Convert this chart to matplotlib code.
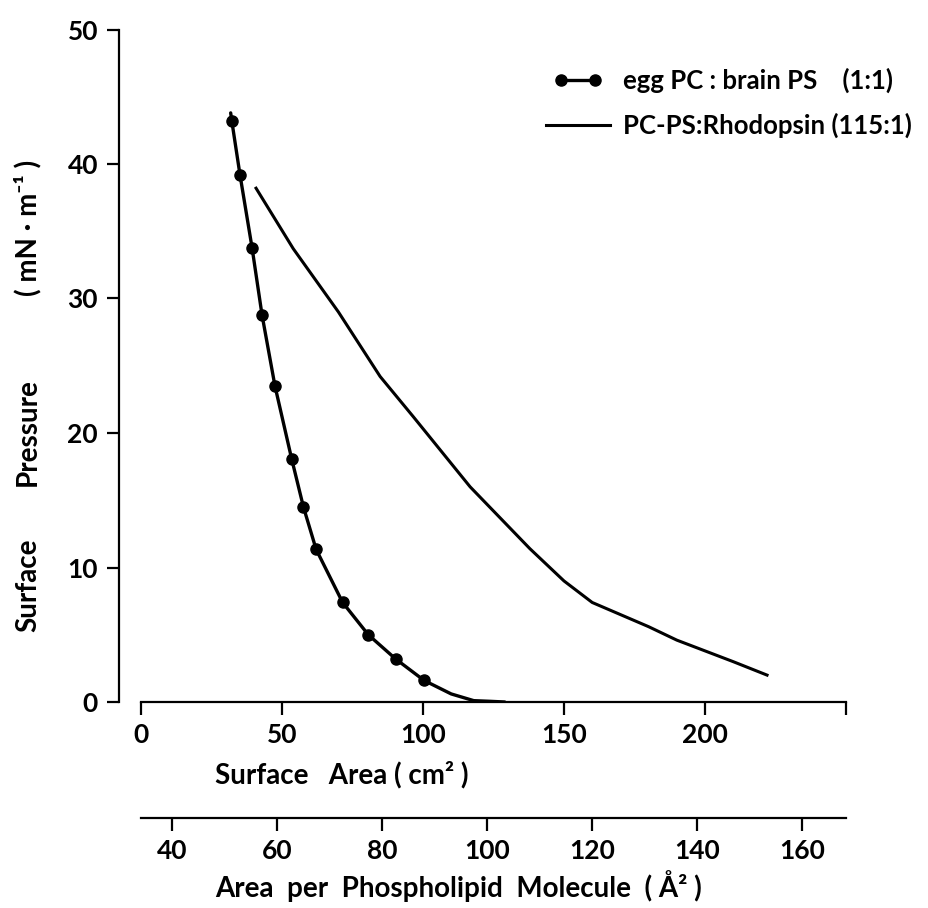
import matplotlib
matplotlib.use("Agg")
import matplotlib.pyplot as plt
from matplotlib.lines import Line2D
from matplotlib.legend_handler import HandlerLine2D

plt.rcParams['font.family'] = ['Lato', 'DejaVu Sans']
plt.rcParams['font.weight'] = 'bold'

# egg PC : brain PS (1:1) -- measured points
egg_area = [32.2, 35.1, 39.4, 42.9, 47.5, 53.4, 57.6, 62.1, 71.5, 80.6, 90.3, 100.4]
egg_pressure = [43.2, 39.2, 33.75, 28.8, 23.5, 18.1, 14.5, 11.35, 7.4, 5.0, 3.2, 1.6]
# hand drawn line through the points, with its ends
egg_line_area = [31.8, 32.2, 35.1, 39.4, 42.9, 47.5, 53.4, 57.6, 62.1, 71.5, 80.6,
                 90.3, 100.4, 110.0, 118.0, 124.0, 129.0]
egg_line_pressure = [43.8, 43.2, 39.2, 33.75, 28.8, 23.5, 18.1, 14.5, 11.35, 7.4, 5.0,
                     3.2, 1.6, 0.6, 0.1, 0.05, 0.0]

# PC-PS : Rhodopsin (115:1)
rho_area = [40.8, 54.0, 70.0, 84.8, 96.6, 116.7, 137.9, 150.0, 160.0, 170.0,
            180.0, 190.0, 200.0, 210.0, 222.0]
rho_pressure = [38.2, 33.7, 29.0, 24.2, 21.2, 16.0, 11.4, 9.0, 7.4, 6.5,
                5.6, 4.6, 3.8, 3.0, 2.0]

x_ticks = [0, 50, 100, 150, 200, 250]
x_labels = ['0', '50', '100', '150', '200', '']
y_ticks = [0, 10, 20, 30, 40, 50]
a2_ticks = [40, 60, 80, 100, 120, 140, 160]

# cm2 -> A2 per phospholipid molecule
A0, SLOPE = 34.15, 0.537

fig = plt.figure(figsize=(9.29, 9.08), dpi=100)
W, H = 929, 908
left, right = 141 / W, 846 / W
bottom, top = (H - 702) / H, (H - 29.5) / H
ax = fig.add_axes([left, bottom, right - left, top - bottom])

ax.plot(egg_line_area, egg_line_pressure, color='black', lw=2.4, solid_capstyle='round')
ax.plot(egg_area, egg_pressure, 'o', color='black', ms=8)
ax.plot(rho_area, rho_pressure, color='black', lw=2.2)

ax.set_xlim(0, 250)
ax.set_ylim(0, 50)
for s in ['top', 'right']:
    ax.spines[s].set_visible(False)
ax.spines['left'].set_position(('outward', 16))
ax.spines['left'].set_linewidth(1.6)
ax.spines['bottom'].set_linewidth(1.6)

ax.set_xticks(x_ticks)
ax.set_xticklabels(x_labels)
ax.set_yticks(y_ticks)
ax.tick_params(axis='both', direction='out', length=9, width=1.6,
               labelsize=19, pad=6)

# y title, words spread out as in the original
for word, yc in [('Surface', 585), ('Pressure', 432), ('( mN · m⁻¹ )', 228)]:
    fig.text(28 / W, 1 - yc / H, word, rotation=90, ha='center', va='center',
             fontsize=20, fontweight='bold')
fig.text(215 / W, 1 - 775 / H, 'Surface   Area ( cm² )', ha='left', va='center',
         fontsize=20, fontweight='bold')

# second scale below
ax2 = fig.add_axes([left, (H - 818) / H, right - left, 0.001])
ax2.set_xlim(A0, A0 + SLOPE * 250)
ax2.set_ylim(0, 1)
for s in ['top', 'right', 'left']:
    ax2.spines[s].set_visible(False)
ax2.spines['bottom'].set_linewidth(1.6)
ax2.set_yticks([])
ax2.set_xticks(a2_ticks)
ax2.tick_params(axis='x', direction='out', length=9, width=1.6, labelsize=19, pad=6)
fig.text(215 / W, 1 - 886 / H, 'Area  per  Phospholipid  Molecule  ( Å² )',
         ha='left', va='center', fontsize=20, fontweight='bold')

handles = [Line2D([], [], color='black', lw=2.4, marker='o', ms=8),
           Line2D([], [], color='black', lw=2.2)]
labels = ['egg PC : brain PS    (1:1)', 'PC-PS:Rhodopsin (115:1)']
fig.legend(handles, labels, loc='upper left', bbox_to_anchor=(546 / W, 1 - 68 / H),
           frameon=False, handlelength=2.5, handletextpad=0.5,
           labelspacing=0.75, borderpad=0, borderaxespad=0,
           handler_map={handles[0]: HandlerLine2D(numpoints=2, marker_pad=0.6)},
           prop={'weight': 'bold', 'size': 18.5})

fig.savefig('out.png', dpi=100)
